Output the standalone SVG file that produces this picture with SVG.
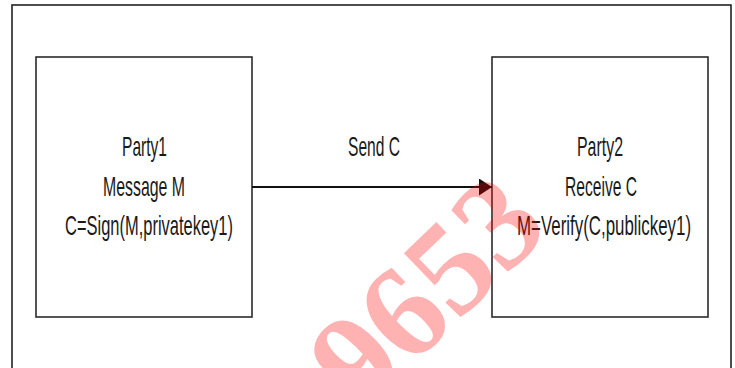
<svg xmlns="http://www.w3.org/2000/svg" width="735" height="368" viewBox="0 0 735 368">
  <defs>
    <style>
      .box { fill: #ffffff; stroke: #2b2b2b; stroke-width: 1.6; }
      .frame { fill: #ffffff; stroke: #222222; stroke-width: 1.6; }
      .lbl { font-family: "Liberation Sans", Arial, sans-serif; font-size: 28px; fill: #1a1a1a; text-anchor: middle; }
      .edge { stroke: #111111; stroke-width: 1.8; fill: none; }
      .wm { font-family: "Liberation Serif", "Times New Roman", serif; font-weight: bold; font-size: 132px; fill: #ff0000; fill-opacity: 0.3; }
    </style>
    <marker id="arrow" markerWidth="14" markerHeight="18" refX="13" refY="8.5" orient="auto" markerUnits="userSpaceOnUse">
      <path d="M0,0 L13,8.5 L0,17 Z" fill="#111111"/>
    </marker>
  </defs>

  <g id="frame">
    <rect class="frame" x="12" y="5" width="719" height="380"/>
  </g>

  <g id="party1">
    <rect class="box" x="36" y="57" width="216" height="260"/>
    <text class="lbl" x="144.5" y="156" textLength="45" lengthAdjust="spacingAndGlyphs">Party1</text>
    <text class="lbl" x="144" y="196" textLength="82" lengthAdjust="spacingAndGlyphs">Message M</text>
    <text class="lbl" x="149" y="235" textLength="168" lengthAdjust="spacingAndGlyphs">C=Sign(M,privatekey1)</text>
  </g>

  <g id="party2">
    <rect class="box" x="492" y="57" width="216" height="260"/>
    <text class="lbl" x="600" y="156" textLength="46" lengthAdjust="spacingAndGlyphs">Party2</text>
    <text class="lbl" x="601" y="196" textLength="72" lengthAdjust="spacingAndGlyphs">Receive C</text>
    <text class="lbl" x="604" y="235" textLength="174" lengthAdjust="spacingAndGlyphs">M=Verify(C,publickey1)</text>
  </g>

  <g id="connectors">
    <line class="edge" x1="252" y1="187" x2="492" y2="187" marker-end="url(#arrow)"/>
    <text class="lbl" x="374" y="156" textLength="52" lengthAdjust="spacingAndGlyphs">Send C</text>
  </g>

  <g id="watermark">
    <text class="wm" transform="translate(362,414) rotate(-44)">9653</text>
  </g>
</svg>
